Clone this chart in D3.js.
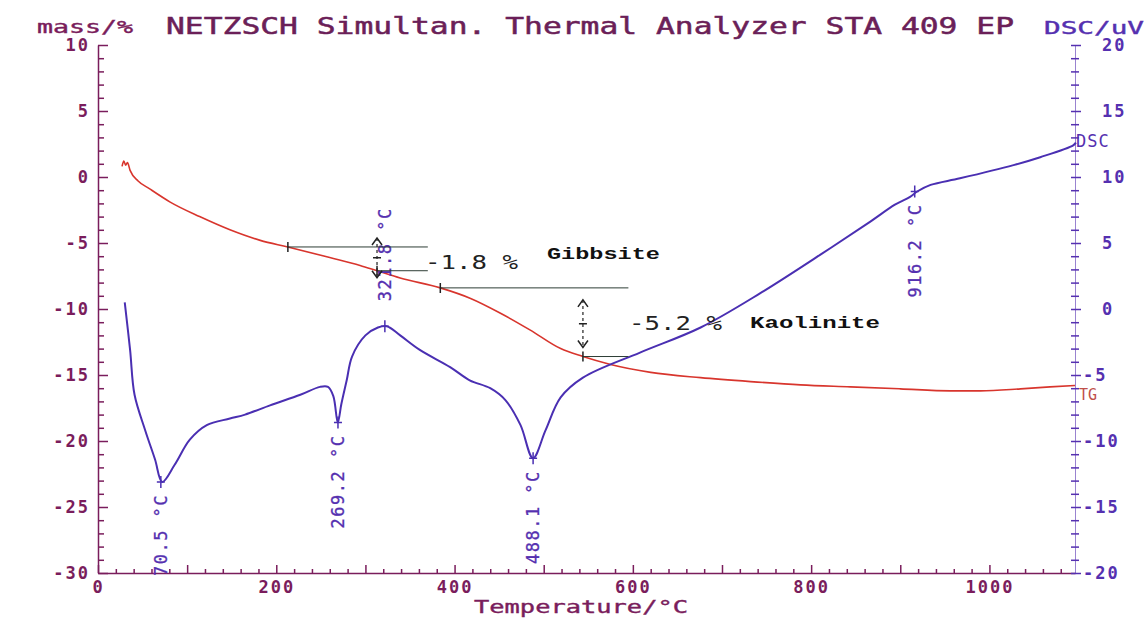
<!DOCTYPE html>
<html><head><meta charset="utf-8">
<script src="https://cdn.jsdelivr.net/npm/d3@7"></script>
<style>
body{margin:0;background:#fff}
svg{display:block}
text{font-family:"DejaVu Sans Mono","Liberation Mono",monospace}
</style>
</head><body>
<svg id="chart" width="1147" height="619"></svg>
<script>
// ---------- data ----------
const tgTemp = [27,29,31,33,36,45,58,81,114,148,182,213,260,294,313,339,384,418,451,485,519,544,575,620,676,732,788,844,900,956,990,1035,1068,1096];
const tgMass = [0.8,1.2,0.9,1.1,0.5,-0.3,-0.9,-1.9,-3.0,-4.0,-4.8,-5.3,-6.1,-6.7,-7.1,-7.65,-8.4,-9.2,-10.3,-11.6,-13.0,-13.6,-14.2,-14.8,-15.2,-15.5,-15.75,-15.9,-16.05,-16.2,-16.2,-16.05,-15.9,-15.8];

const dscTemp = [30,36,41,53,64,72,86,103,122,148,165,193,227,249,258,264,269,273,279,285,300,314,324,339,361,395,417,440,457,474,488,502,519,544,608,676,743,810,866,894,911,919,934,967,1027,1057,1094,1097];
const dscValue = [0.5,-3.1,-6.5,-9.2,-11.4,-13.1,-11.8,-9.9,-8.8,-8.3,-8.0,-7.3,-6.5,-5.9,-5.9,-6.6,-8.6,-7.2,-5.4,-3.6,-2.0,-1.4,-1.3,-2.0,-3.1,-4.4,-5.4,-6.0,-6.9,-8.8,-11.3,-9.2,-6.7,-5.2,-3.3,-1.4,1.2,4.1,6.6,7.9,8.5,8.9,9.4,9.9,10.9,11.5,12.4,12.6];

const tempTicks = [0,200,400,600,800,1000];
const massTicks = [10,5,0,-5,-10,-15,-20,-25,-30];
const dscTicks = [20,15,10,5,0,-5,-10,-15,-20];

const peakTemps  = [70.5,269.2,321.8,488.1,916.2];
const peakValues = [-13.1,-8.6,-1.3,-11.3,8.9];
const peakLabels = ["70.5 °C","269.2 °C","321.8 °C","488.1 °C","916.2 °C"];
const peakBelow  = [true,true,false,true,true];

const stepStartTemp = [213,384];
const stepEndTemp   = [313,544];
const stepStartMass = [-5.3,-8.4];
const stepEndMass   = [-7.1,-13.6];
const stepLineEndTemp = [370,595];
const stepLabels = ["-1.8 %","-5.2 %"];
const stepNames  = ["Gibbsite","Kaolinite"];

const titleText = "NETZSCH Simultan. Thermal Analyzer STA 409 EP";

// ---------- setup ----------
const svg = d3.select("#chart");
const maroon = "#7a1d5c", purple = "#5530b0", red = "#d8352d", blue = "#4a2fb2", ann = "#2d3d35";

const x = d3.scaleLinear().domain([0,1096]).range([98,1075]);
const yL = d3.scaleLinear().domain([-30,10]).range([573,45]);
const yR = d3.scaleLinear().domain([-20,20]).range([573,45]);

// left axis
const leftAxis = svg.append("g").attr("transform","translate(98,0)")
  .call(d3.axisLeft(yL).tickValues(d3.range(-30,11,1))
    .tickSizeInner(-7).tickSizeOuter(0).tickPadding(10)
    .tickFormat(d => massTicks.includes(d) ? String(d) : ""));
leftAxis.select(".domain").attr("stroke",maroon).attr("stroke-width",1.5);
leftAxis.selectAll(".tick line").attr("stroke",maroon).attr("stroke-width",1.5)
  .attr("x2", d => massTicks.includes(d) ? 10 : 6);
leftAxis.selectAll(".tick text").attr("fill",maroon).style("font-size","17px")
  .style("font-weight","bold").style("letter-spacing","2px").attr("x",-8);

// bottom axis
const bottomAxis = svg.append("g").attr("transform","translate(0,573)")
  .call(d3.axisBottom(x).tickValues(d3.range(0,1096,20))
    .tickSizeInner(-4).tickSizeOuter(0).tickPadding(8)
    .tickFormat(d => tempTicks.includes(d) ? String(d) : ""));
bottomAxis.select(".domain").attr("stroke",maroon).attr("stroke-width",1.5);
bottomAxis.selectAll(".tick line").attr("stroke",maroon).attr("stroke-width",1.5)
  .attr("y2", d => d % 100 === 0 ? -8 : -4);
bottomAxis.selectAll(".tick text").attr("fill",maroon).style("font-size","17px")
  .style("font-weight","bold").style("letter-spacing","2px");

// right axis
const rightAxis = svg.append("g").attr("transform","translate(1075,0)")
  .call(d3.axisRight(yR).tickValues(d3.range(-20,21,1))
    .tickSizeInner(4).tickSizeOuter(0).tickPadding(0)
    .tickFormat(d => dscTicks.includes(d) ? String(d) : ""));
rightAxis.select(".domain").attr("stroke",purple).attr("stroke-width",1).attr("opacity",0.6);
rightAxis.selectAll(".tick line").attr("stroke",purple).attr("stroke-width",1.5)
  .attr("x1",-4).attr("x2", d => dscTicks.includes(d) ? 6 : 4);
rightAxis.selectAll(".tick text").attr("fill",purple).style("font-size","17px")
  .style("font-weight","bold").style("letter-spacing","2px")
  .attr("x", d => d < 0 ? 8 : 27);

// titles
svg.append("text").attr("x",37).attr("y",33).attr("fill",maroon)
  .attr("stroke",maroon).attr("stroke-width",0.4)
  .attr("textLength",96).attr("lengthAdjust","spacingAndGlyphs")
  .style("font-size","17px").text("mass/%");
svg.append("text").attr("x",166).attr("y",34).attr("fill","#6b1f58")
  .attr("stroke","#6b1f58").attr("stroke-width",0.5)
  .attr("textLength",848).attr("lengthAdjust","spacingAndGlyphs")
  .style("font-size","23px").text(titleText);
svg.append("text").attr("x",1044).attr("y",34).attr("fill",purple)
  .attr("stroke",purple).attr("stroke-width",0.4)
  .attr("textLength",100).attr("lengthAdjust","spacingAndGlyphs")
  .style("font-size","18px").text("DSC/uV");
svg.append("text").attr("x",474).attr("y",613).attr("fill",maroon)
  .attr("stroke",maroon).attr("stroke-width",0.4)
  .attr("textLength",214).attr("lengthAdjust","spacingAndGlyphs")
  .style("font-size","18px").text("Temperature/°C");

// curves
const tgData = tgTemp.map((t,i)=>[t,tgMass[i]]);
const dscData = dscTemp.map((t,i)=>[t,dscValue[i]]);
svg.append("path").datum(tgData)
  .attr("d", d3.line().x(d=>x(d[0])).y(d=>yL(d[1])).curve(d3.curveMonotoneX))
  .attr("fill","none").attr("stroke",red).attr("stroke-width",1.6);
svg.append("path").datum(dscData)
  .attr("d", d3.line().x(d=>x(d[0])).y(d=>yR(d[1])).curve(d3.curveCatmullRom.alpha(0.5)))
  .attr("fill","none").attr("stroke",blue).attr("stroke-width",2);

svg.append("text").attr("x",1076).attr("y",147).attr("fill",purple)
  .style("font-size","17px").style("letter-spacing","1px").text("DSC");
svg.append("text").attr("x",1079).attr("y",400).attr("fill","#c0504a")
  .style("font-size","15px").text("TG");

// peak markers & labels
peakTemps.forEach((t,i)=>{
  const px = x(t), py = yR(peakValues[i]);
  svg.append("path").attr("d",`M${px},${py-6}V${py+6}M${px-4},${py}H${px+4}`)
    .attr("stroke",blue).attr("stroke-width",1.5);
  const ty = peakBelow[i] ? py+12 : py-25;
  svg.append("text").attr("transform",`translate(${px},${ty}) rotate(-90)`)
    .attr("text-anchor", peakBelow[i] ? "end" : "start").attr("dy","0.36em")
    .attr("fill",purple).attr("stroke",purple).attr("stroke-width",0.3)
    .style("font-size","17px").style("letter-spacing","1.5px")
    .text(peakLabels[i]);
});

// step annotations
const arrowTips = [[-9,7],[12,-9]];
stepLabels.forEach((lab,i)=>{
  const x0 = x(stepStartTemp[i]), x1 = x(stepEndTemp[i]), xe = x(stepLineEndTemp[i]);
  const y0 = yL(stepStartMass[i]), y1 = yL(stepEndMass[i]);
  svg.append("line").attr("x1",x0).attr("x2",xe).attr("y1",y0).attr("y2",y0)
    .attr("stroke",ann).attr("stroke-width",1);
  svg.append("line").attr("x1",x1).attr("x2",xe).attr("y1",y1).attr("y2",y1)
    .attr("stroke",ann).attr("stroke-width",1);
  svg.append("path").attr("d",`M${x0},${y0-5}V${y0+5}M${x1},${y1-5}V${y1+5}`)
    .attr("stroke","#222").attr("stroke-width",1.5);
  const top = y0 + arrowTips[i][0], bot = y1 + arrowTips[i][1], mid = (top+bot)/2;
  svg.append("line").attr("x1",x1).attr("x2",x1).attr("y1",top).attr("y2",bot)
    .attr("stroke","#222").attr("stroke-width",1.2).attr("stroke-dasharray","3,3");
  svg.append("path").attr("d",`M${x1-5},${top+7}L${x1},${top}L${x1+5},${top+7}M${x1-5},${bot-7}L${x1},${bot}L${x1+5},${bot-7}M${x1-4},${mid}H${x1+4}`)
    .attr("stroke","#222").attr("stroke-width",1.5).attr("fill","none");
});
svg.append("text").attr("x",425).attr("y",269).attr("fill","#222")
  .attr("textLength",93).attr("lengthAdjust","spacingAndGlyphs").style("font-size","19px").text(stepLabels[0]);
svg.append("text").attr("x",547).attr("y",259).attr("fill","#111")
  .attr("textLength",113).attr("lengthAdjust","spacingAndGlyphs")
  .style("font-family","'Liberation Mono',monospace").style("font-weight","bold")
  .style("font-size","17px").text(stepNames[0]);
svg.append("text").attr("x",629).attr("y",330).attr("fill","#222")
  .attr("textLength",93).attr("lengthAdjust","spacingAndGlyphs").style("font-size","19px").text(stepLabels[1]);
svg.append("text").attr("x",750).attr("y",328).attr("fill","#111")
  .attr("textLength",130).attr("lengthAdjust","spacingAndGlyphs")
  .style("font-family","'Liberation Mono',monospace").style("font-weight","bold")
  .style("font-size","17px").text(stepNames[1]);
</script>
</body></html>
